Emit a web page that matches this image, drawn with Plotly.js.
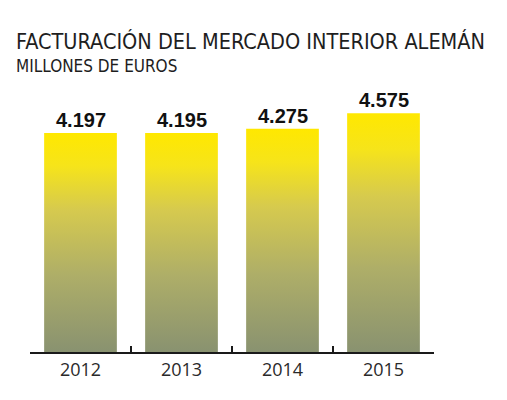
<!DOCTYPE html>
<html>
<head>
<meta charset="utf-8">
<script src="https://cdn.plot.ly/plotly-3.0.1.min.js"></script>
<style>html,body{margin:0;padding:0;background:#fff;}#chart{width:507px;height:400px;}</style>
</head>
<body>
<div id="chart"></div>
<script>
var years = ['2012', '2013', '2014', '2015'];
var values = [4197, 4195, 4275, 4575];
var valueLabels = ['4.197', '4.195', '4.275', '4.575'];
var titleText = 'FACTURACIÓN DEL MERCADO INTERIOR ALEMÁN';
var subtitleText = 'MILLONES DE EUROS';

var W = 507, H = 400;
var M = {l: 30, r: 73, t: 91, b: 48};
var plotW = W - M.l - M.r, plotH = H - M.t - M.b;
function px(x) { return (x - M.l) / plotW; }
function py(y) { return (H - M.b - y) / plotH; }

var halfWidth = 0.36;
var gradient = [[0, '#899270'], [0.35, '#aeae68'], [0.65, '#d6ca4e'], [0.85, '#f6e41a'], [1, '#ffe800']];
var narrow = 'DejaVu Sans Condensed, Liberation Sans Narrow, sans-serif';

var traces = values.map(function (v, i) {
  return {
    type: 'scatter', mode: 'lines', fill: 'toself',
    x: [i - halfWidth, i + halfWidth, i + halfWidth, i - halfWidth, i - halfWidth],
    y: [0, 0, v, v, 0],
    line: {width: 0, color: 'rgba(0,0,0,0)'},
    fillgradient: {type: 'vertical', colorscale: gradient},
    hoverinfo: 'skip', showlegend: false, xaxis: 'x', yaxis: 'y'
  };
});
traces.push({type: 'scatter', mode: 'markers', x: [0], y: [0], marker: {opacity: 0}, xaxis: 'x2', yaxis: 'y', showlegend: false, hoverinfo: 'skip'});

var boundaries = [];
for (var b = 0; b <= years.length; b++) boundaries.push(b - 0.5);

var annotations = values.map(function (v, i) {
  return {
    x: i, y: v, xref: 'x', yref: 'y', text: '<b>' + valueLabels[i] + '</b>',
    showarrow: false, yanchor: 'bottom', yshift: 0,
    font: {family: 'Liberation Sans, Arial, sans-serif', size: 20, color: '#111111'}
  };
});
annotations.push({
  x: px(14), y: py(42), xref: 'paper', yref: 'paper', text: titleText,
  showarrow: false, xanchor: 'left', yanchor: 'middle',
  font: {family: narrow, size: 21.5, color: '#1e1e1e'}
});
annotations.push({
  x: px(14), y: py(66), xref: 'paper', yref: 'paper', text: subtitleText,
  showarrow: false, xanchor: 'left', yanchor: 'middle',
  font: {family: narrow, size: 17, color: '#1e1e1e'}
});

var layout = {
  width: W, height: H,
  margin: M,
  paper_bgcolor: '#ffffff', plot_bgcolor: '#ffffff',
  showlegend: false,
  xaxis: {
    range: [-0.5, years.length - 0.5], tickvals: [0, 1, 2, 3], ticktext: years,
    ticks: 'outside', ticklen: 1, tickcolor: 'rgba(0,0,0,0)', showgrid: false, zeroline: false, showline: false,
    tickfont: {family: 'Open Sans, sans-serif', size: 18, color: '#2a2a2a'}
  },
  xaxis2: {
    overlaying: 'x', range: [-0.5, years.length - 0.5], tickvals: boundaries,
    showticklabels: false, ticks: 'inside', ticklen: 6, tickwidth: 2, tickcolor: '#1a1a1a',
    showline: true, linecolor: '#1a1a1a', linewidth: 2, showgrid: false, zeroline: false,
    side: 'bottom'
  },
  yaxis: {range: [0, 5000], visible: false, showgrid: false, zeroline: false},
  annotations: annotations
};

Plotly.newPlot('chart', traces, layout, {staticPlot: true});
</script>
</body>
</html>
